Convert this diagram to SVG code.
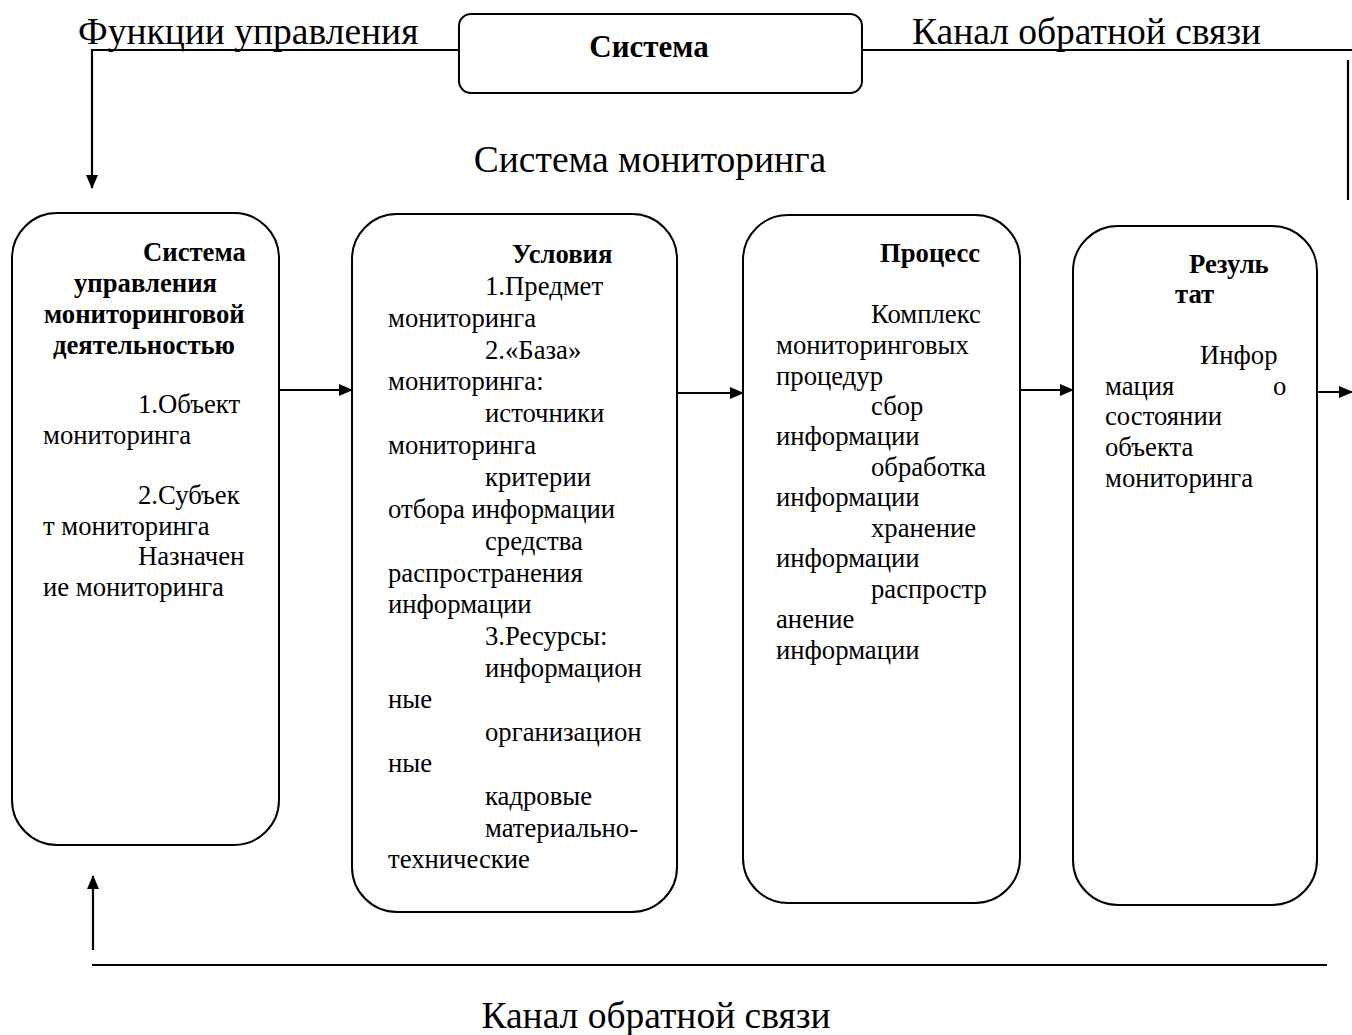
<svg xmlns="http://www.w3.org/2000/svg" width="1352" height="1035" viewBox="0 0 1352 1035">
<style>
.box{fill:#fff;stroke:#000;stroke-width:2}
.ln{fill:none;stroke:#000;stroke-width:2.2}
.big{font-family:"Liberation Serif","Times New Roman",serif;font-size:37.5px;fill:#000}
.t{font-family:"Liberation Serif","Times New Roman",serif;font-size:26.7px;fill:#000}
.b{font-weight:bold}
</style>
<defs>
<marker id="ah" markerUnits="userSpaceOnUse" markerWidth="14" markerHeight="12" refX="13" refY="6" orient="auto">
<path d="M0,0 L14,6 L0,12 Z" fill="#000"/>
</marker>
</defs>
<rect width="1352" height="1035" fill="#fff"/>
<g id="connectors">
<polyline class="ln" points="459,50 92,50 92,188" marker-end="url(#ah)"/>
<polyline class="ln" points="862,50 1352,50"/>
<line class="ln" x1="1348" y1="60" x2="1348" y2="200"/>
<line class="ln" x1="279" y1="390" x2="352" y2="390" marker-end="url(#ah)"/>
<line class="ln" x1="677" y1="393" x2="743" y2="393" marker-end="url(#ah)"/>
<line class="ln" x1="1020" y1="390" x2="1073" y2="390" marker-end="url(#ah)"/>
<line class="ln" x1="1317" y1="392" x2="1352" y2="392" marker-end="url(#ah)"/>
<line class="ln" x1="92" y1="965" x2="1327" y2="965"/>
<line class="ln" x1="93" y1="950" x2="93" y2="876" marker-end="url(#ah)"/>
</g>
<g id="labels">
<text class="big" x="78" y="44">Функции управления</text>
<text class="big" x="912" y="44">Канал обратной связи</text>
<text class="big" x="650" y="172" text-anchor="middle">Система мониторинга</text>
<text class="big" x="656" y="1028" text-anchor="middle">Канал обратной связи</text>
</g>
<g id="system">
<rect class="box" x="459" y="14" width="403" height="79" rx="12"/>
<text class="t b" x="649" y="57" text-anchor="middle" style="font-size:31px">Система</text>
</g>
<g id="management">
<rect class="box" x="12" y="213" width="267" height="632" rx="45"/>
<text class="t b" x="143" y="261">Система</text>
<text class="t b" x="74" y="292">управления</text>
<text class="t b" x="44" y="323">мониторинговой</text>
<text class="t b" x="53" y="354">деятельностью</text>
<text class="t" x="138" y="413">1.Объект</text>
<text class="t" x="43" y="444">мониторинга</text>
<text class="t" x="138" y="504">2.Субъек</text>
<text class="t" x="43" y="535">т мониторинга</text>
<text class="t" x="138" y="565">Назначен</text>
<text class="t" x="43" y="596">ие мониторинга</text>
</g>
<g id="conditions">
<rect class="box" x="352" y="214" width="325" height="698" rx="45"/>
<text class="t b" x="512" y="263">Условия</text>
<text class="t" x="485" y="295">1.Предмет</text>
<text class="t" x="388" y="327">мониторинга</text>
<text class="t" x="485" y="359">2.«База»</text>
<text class="t" x="388" y="390">мониторинга:</text>
<text class="t" x="485" y="422">источники</text>
<text class="t" x="388" y="454">мониторинга</text>
<text class="t" x="485" y="486">критерии</text>
<text class="t" x="388" y="518">отбора информации</text>
<text class="t" x="485" y="550">средства</text>
<text class="t" x="388" y="582">распространения</text>
<text class="t" x="388" y="613">информации</text>
<text class="t" x="485" y="645">3.Ресурсы:</text>
<text class="t" x="485" y="677">информацион</text>
<text class="t" x="388" y="708">ные</text>
<text class="t" x="485" y="741">организацион</text>
<text class="t" x="388" y="772">ные</text>
<text class="t" x="485" y="805">кадровые</text>
<text class="t" x="485" y="837">материально-</text>
<text class="t" x="388" y="868">технические</text>
</g>
<g id="process">
<rect class="box" x="743" y="215" width="277" height="688" rx="45"/>
<text class="t b" x="880" y="262">Процесс</text>
<text class="t" x="871" y="323">Комплекс</text>
<text class="t" x="776" y="354">мониторинговых</text>
<text class="t" x="776" y="385">процедур</text>
<text class="t" x="871" y="415">сбор</text>
<text class="t" x="776" y="445">информации</text>
<text class="t" x="871" y="476">обработка</text>
<text class="t" x="776" y="506">информации</text>
<text class="t" x="871" y="537">хранение</text>
<text class="t" x="776" y="567">информации</text>
<text class="t" x="871" y="598">распростр</text>
<text class="t" x="776" y="628">анение</text>
<text class="t" x="776" y="659">информации</text>
</g>
<g id="result">
<rect class="box" x="1073" y="226" width="244" height="679" rx="45"/>
<text class="t b" x="1189" y="273">Резуль</text>
<text class="t b" x="1175" y="303">тат</text>
<text class="t" x="1200" y="364">Инфор</text>
<text class="t" x="1105" y="395">мация</text>
<text class="t" x="1273" y="395">о</text>
<text class="t" x="1105" y="425">состоянии</text>
<text class="t" x="1105" y="456">объекта</text>
<text class="t" x="1105" y="487">мониторинга</text>
</g>
</svg>
